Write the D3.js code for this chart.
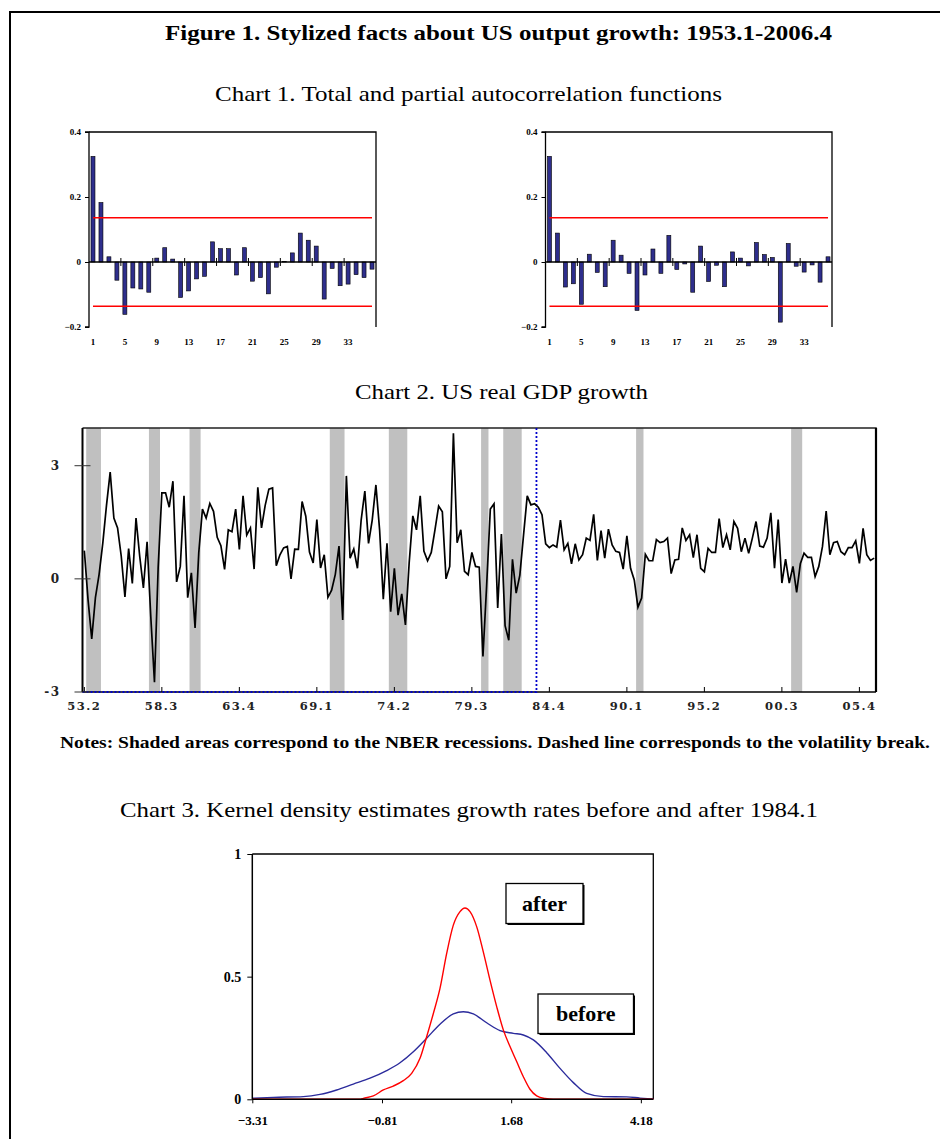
<!DOCTYPE html>
<html>
<head>
<meta charset="utf-8">
<script src="https://cdn.jsdelivr.net/npm/d3@7"></script>
<style>
  html, body { margin: 0; padding: 0; background: #fff; }
  svg { display: block; }
</style>
</head>
<body>
<svg id="fig" width="940" height="1139"></svg>
<script>
// ---------- Chart 1: autocorrelation functions (lags 1..36) ----------
const acfLags = d3.range(1, 37);
const acfTotal = [0.325, 0.183, 0.016, -0.056, -0.161, -0.080, -0.083, -0.093, 0.012, 0.044,
  0.009, -0.109, -0.089, -0.052, -0.044, 0.062, 0.041, 0.041, -0.040, 0.044,
  -0.059, -0.048, -0.098, -0.016, 0.002, 0.028, 0.089, 0.067, 0.049, -0.114,
  -0.020, -0.073, -0.068, -0.039, -0.048, -0.022];
const acfPartial = [0.325, 0.089, -0.077, -0.067, -0.130, 0.024, -0.032, -0.076, 0.067, 0.021,
  -0.035, -0.149, -0.040, 0.040, -0.035, 0.082, -0.023, -0.006, -0.093, 0.049,
  -0.060, -0.010, -0.076, 0.031, 0.012, -0.012, 0.060, 0.023, 0.014, -0.185,
  0.057, -0.013, -0.031, -0.009, -0.062, 0.016];
const acfBand = 0.136;
const acfYTicks = [0.4, 0.2, 0, -0.2];
const acfXTickLabels = [1, 5, 9, 13, 17, 21, 25, 29, 33];

// ---------- Chart 2: US real GDP growth, 1953.2 - 2006.4 ----------
const gdpStart = { year: 1953, q: 2 };
const gdpGrowth = [0.75, -0.55, -1.59, -0.50, 0.12, 0.95, 1.95, 2.83, 1.61, 1.35,
  0.60, -0.48, 0.80, -0.12, 1.61, 0.60, -0.24, 0.98, -1.00, -2.74,
  0.30, 2.28, 2.28, 1.90, 2.59, -0.08, 0.33, 2.20, -0.50, 0.16,
  -1.30, 0.69, 1.85, 1.61, 2.00, 1.79, 1.10, 0.88, 0.25, 1.30,
  1.25, 1.85, 0.78, 2.20, 1.16, 1.35, 0.26, 2.43, 1.35, 1.95,
  2.38, 2.41, 0.35, 0.64, 0.82, 0.86, 0.00, 0.79, 0.78, 2.05,
  1.66, 0.71, 0.42, 1.57, 0.29, 0.64, -0.49, -0.30, 0.12, 0.87,
  -1.09, 2.73, 0.55, 0.79, 0.28, 1.56, 2.33, 0.94, 1.56, 2.49,
  1.30, -0.54, 0.94, -0.87, 0.28, -0.96, -0.40, -1.22, 0.41, 1.67,
  1.30, 2.20, 0.74, 0.48, 0.70, 1.30, 1.93, 1.78, 0.00, 0.33,
  3.86, 0.96, 1.30, 0.20, 0.11, 0.70, 0.33, 0.31, -2.06, -0.18,
  1.85, 1.99, -0.77, 1.19, -1.24, -1.63, 0.52, -0.38, 0.10, 1.16,
  2.20, 1.96, 1.99, 1.90, 1.70, 0.93, 0.83, 0.90, 0.84, 1.56,
  0.77, 0.94, 0.40, 0.93, 0.50, 0.64, 1.08, 1.02, 1.71, 0.49,
  1.28, 0.55, 1.32, 0.90, 0.73, 0.70, 0.26, 1.14, 0.28, -0.03,
  -0.75, -0.51, 0.65, 0.48, 0.48, 1.04, 0.96, 0.99, 1.08, 0.14,
  0.50, 0.52, 1.35, 1.02, 1.17, 0.56, 1.17, 0.28, 0.19, 0.81,
  0.70, 0.70, 1.60, 0.83, 1.17, 0.77, 1.52, 1.34, 0.72, 1.08,
  0.68, 1.08, 1.52, 0.87, 0.84, 1.08, 1.75, 0.28, 1.57, -0.11,
  0.52, -0.11, 0.33, -0.36, 0.40, 0.68, 0.57, 0.57, 0.06, 0.33,
  0.86, 1.80, 0.64, 0.96, 0.99, 0.72, 0.64, 0.83, 0.83, 1.01,
  0.41, 1.34, 0.64, 0.49, 0.55];
// NBER recessions: first and last quarter shaded
const recessionFrom = ["53.3", "57.4", "60.3", "70.1", "74.1", "80.2", "81.4", "90.4", "01.2"];
const recessionTo   = ["54.2", "58.2", "61.1", "70.4", "75.1", "80.3", "82.4", "91.1", "01.4"];
const volatilityBreak = "84.1";
const gdpXTickLabels = ["53.2", "58.3", "63.4", "69.1", "74.2", "79.3", "84.4", "90.1", "95.2", "00.3", "05.4"];
const gdpYTicks = [3, 0, -3];

// ---------- Chart 3: kernel density estimates ----------
const densityAfterX = [-3.31, -1.234, -1.17, -0.977, -0.784, -0.592, -0.399, -0.238, -0.077, 0.051,
  0.18, 0.308, 0.437, 0.565, 0.694, 0.79, 0.887, 1.015, 1.144, 1.272,
  1.401, 1.529, 1.658, 1.786, 1.915, 2.043, 2.172, 2.333, 2.493, 4.42];
const densityAfterY = [0, 0, 0.004, 0.014, 0.038, 0.054, 0.076, 0.106, 0.167, 0.255,
  0.35, 0.452, 0.595, 0.71, 0.765, 0.78, 0.765, 0.704, 0.60, 0.486,
  0.378, 0.283, 0.215, 0.154, 0.092, 0.041, 0.014, 0.003, 0, 0];
const densityBeforeX = [-3.31, -2.905, -2.327, -2.005, -1.684, -1.363, -1.041, -0.72, -0.463, -0.206,
  0.051, 0.308, 0.565, 0.758, 0.951, 1.208, 1.465, 1.722, 1.915, 2.108,
  2.365, 2.622, 2.879, 3.136, 3.457, 3.907, 4.164, 4.42];
const densityBeforeY = [0.004, 0.008, 0.011, 0.02, 0.038, 0.062, 0.086, 0.117, 0.149, 0.194,
  0.249, 0.306, 0.348, 0.357, 0.348, 0.312, 0.28, 0.269, 0.262, 0.242,
  0.19, 0.126, 0.068, 0.024, 0.011, 0.01, 0.005, 0.001];
const densityXTicks = [-3.31, -0.81, 1.68, 4.18];
const densityYTicks = [0, 0.5, 1];

// ---------------------------------------------------------------
const svg = d3.select("#fig");
const SERIF = '"Liberation Serif", "Times New Roman", serif';

// outer frame (top and left edges)
svg.append("path")
  .attr("d", "M10,1139 L10,12 L940,12")
  .attr("fill", "none").attr("stroke", "#000").attr("stroke-width", 2);

// centred heading stretched to a given width
function heading(text, cx, y, size, bold, width) {
  svg.append("text").attr("x", cx - width / 2).attr("y", y)
    .attr("font-family", SERIF).attr("font-size", size)
    .attr("font-weight", bold ? "bold" : "normal")
    .attr("textLength", width).attr("lengthAdjust", "spacingAndGlyphs")
    .text(text);
}
heading("Figure 1. Stylized facts about US output growth: 1953.1-2006.4", 498.5, 40, 22, true, 667);
heading("Chart 1. Total and partial autocorrelation functions", 468.5, 101, 22, false, 507);
heading("Chart 2. US real GDP growth", 501.5, 399, 22, false, 293);
heading("Chart 3. Kernel density estimates growth rates before and after 1984.1", 469, 817, 22, false, 698);
heading("Notes: Shaded areas correspond to the NBER recessions. Dashed line corresponds to the volatility break.", 495, 748, 17, true, 870);

// ---------- correlogram ----------
function correlogram(values, left, right) {
  const top = 132, bottom = 327;
  const g = svg.append("g");
  const x = d3.scaleBand().domain(acfLags).range([left, right]);
  const y = d3.scaleLinear().domain([-0.2, 0.4]).range([bottom, top]);

  // plot frame: top and right
  g.append("path")
    .attr("d", `M${left},${top} L${right},${top} L${right},${bottom}`)
    .attr("fill", "none").attr("stroke", "#000").attr("stroke-width", 1.3);

  // bars
  g.selectAll("rect.bar").data(values).join("rect")
    .attr("class", "bar")
    .attr("x", (d, i) => x(acfLags[i]) + x.bandwidth() * 0.25)
    .attr("width", x.bandwidth() * 0.5)
    .attr("y", d => y(Math.max(0, d)))
    .attr("height", d => Math.abs(y(d) - y(0)))
    .attr("fill", "#2e2e8c").attr("stroke", "#000").attr("stroke-width", 0.6);

  // confidence bands
  const band = d3.line().x(d => x(d) + x.bandwidth() / 2);
  [acfBand, -acfBand].forEach(b => {
    g.append("path")
      .attr("d", band.y(() => y(b))(acfLags))
      .attr("fill", "none").attr("stroke", "#ff0000").attr("stroke-width", 1.6);
  });

  // horizontal zero axis with crossing tick marks every 4 lags
  g.append("line").attr("x1", left).attr("x2", right)
    .attr("y1", y(0)).attr("y2", y(0)).attr("stroke", "#000").attr("stroke-width", 1.3);
  acfXTickLabels.forEach(l => {
    const bx = x(l);
    if (l > 1) {
      g.append("line").attr("x1", bx).attr("x2", bx)
        .attr("y1", y(0) - 4).attr("y2", y(0) + 4)
        .attr("stroke", "#000").attr("stroke-width", 1);
    }
    g.append("text").attr("x", bx + x.bandwidth() / 2).attr("y", bottom + 18)
      .attr("text-anchor", "middle")
      .attr("font-family", SERIF).attr("font-size", 9).attr("font-weight", "bold")
      .text(l);
  });

  // vertical axis
  const yAxis = d3.axisLeft(y).tickValues(acfYTicks).tickSize(4).tickPadding(4)
    .tickFormat(d => d === 0 ? "0" : d3.format(".1f")(d));
  const ya = g.append("g").attr("transform", `translate(${left},0)`).call(yAxis);
  ya.select(".domain").attr("stroke-width", 1.3).attr("d", `M-4,${top}H0V${bottom}H-4`);
  ya.selectAll("text").attr("font-family", SERIF).attr("font-size", 9).attr("font-weight", "bold").attr("fill", "#000");
  ya.selectAll(".tick line").attr("stroke-width", 1);
}
correlogram(acfTotal, 89, 376);
correlogram(acfPartial, 545.5, 832);

// ---------- GDP growth chart ----------
(function () {
  const left = 82.5, right = 876, top = 428, bottom = 692;
  const quarters = gdpGrowth.map((_, i) => {
    const k = (gdpStart.q - 1) + i;
    const yr = gdpStart.year + Math.floor(k / 4);
    return String(yr % 100).padStart(2, "0") + "." + (k % 4 + 1);
  });
  const x = d3.scaleBand().domain(quarters).range([left, right]);
  const xc = q => x(q) + x.bandwidth() / 2;
  const y = d3.scaleLinear().domain([-3, 4]).range([bottom, top]);
  const g = svg.append("g");

  // recession shading
  g.selectAll("rect.rec").data(recessionFrom).join("rect")
    .attr("class", "rec")
    .attr("x", d => x(d))
    .attr("width", (d, i) => x(recessionTo[i]) + x.bandwidth() - x(d))
    .attr("y", top).attr("height", bottom - top)
    .attr("fill", "#c0c0c0");

  // frame: top and right
  g.append("path").attr("d", `M${left},${top} L${right},${top} L${right},${bottom}`)
    .attr("fill", "none").attr("stroke", "#222").attr("stroke-width", 1.5);
  g.append("line").attr("x1", right).attr("x2", right).attr("y1", top).attr("y2", bottom)
    .attr("stroke", "#000").attr("stroke-width", 2.2);

  // bottom axis
  g.append("line").attr("x1", left).attr("x2", right).attr("y1", bottom).attr("y2", bottom)
    .attr("stroke", "#000").attr("stroke-width", 1.5);
  gdpXTickLabels.forEach(l => {
    const px = xc(l);
    g.append("line").attr("x1", px).attr("x2", px).attr("y1", bottom).attr("y2", bottom - 5)
      .attr("stroke", "#000").attr("stroke-width", 1);
    g.append("text").attr("x", px).attr("y", bottom + 18)
      .attr("text-anchor", "middle")
      .attr("font-family", '"DejaVu Serif", serif').attr("font-size", 11.5).attr("font-weight", "bold")
      .attr("letter-spacing", 1.5).attr("fill", "#222")
      .text(l);
  });

  // volatility break marker (dotted)
  const bx = x(volatilityBreak);
  g.append("path").attr("d", `M${left},${bottom} L${bx},${bottom} L${bx},${top}`)
    .attr("fill", "none").attr("stroke", "#0000cc").attr("stroke-width", 1.8)
    .attr("stroke-dasharray", "2,2");

  // growth line
  g.append("path").datum(gdpGrowth)
    .attr("d", d3.line().x((d, i) => xc(quarters[i])).y(d => y(d)))
    .attr("fill", "none").attr("stroke", "#000").attr("stroke-width", 1.7)
    .attr("stroke-linejoin", "miter");

  // left axis
  g.append("line").attr("x1", left).attr("x2", left).attr("y1", top).attr("y2", bottom)
    .attr("stroke", "#000").attr("stroke-width", 2);
  gdpYTicks.forEach(t => {
    g.append("line").attr("x1", left - 8).attr("x2", left + 8).attr("y1", y(t)).attr("y2", y(t))
      .attr("stroke", "#333").attr("stroke-width", 1);
    g.append("text").attr("x", left - 22).attr("y", y(t) + 4)
      .attr("text-anchor", "end")
      .attr("font-family", '"DejaVu Serif", serif').attr("font-size", 12).attr("font-weight", "bold")
      .attr("letter-spacing", 1.5).attr("fill", "#222")
      .text(t < 0 ? "-" + Math.abs(t) : t);
  });
})();

// ---------- kernel density chart ----------
(function () {
  const left = 252.3, right = 653.3, top = 854, bottom = 1099.3;
  const x = d3.scaleLinear().domain([-3.31, 4.42]).range([left, right]);
  const y = d3.scaleLinear().domain([0, 1]).range([bottom, top]);
  const g = svg.append("g");

  g.append("path").attr("d", `M${left},${top} L${right},${top} L${right},${bottom}`)
    .attr("fill", "none").attr("stroke", "#000").attr("stroke-width", 1.3);

  const line = d3.line().curve(d3.curveMonotoneX).x(d => x(d[0])).y(d => y(d[1]));
  g.append("path").datum(d3.zip(densityBeforeX, densityBeforeY))
    .attr("d", line).attr("fill", "none").attr("stroke", "#2b2b9c").attr("stroke-width", 1.4);
  g.append("path").datum(d3.zip(densityAfterX, densityAfterY))
    .attr("d", line).attr("fill", "none").attr("stroke", "#ff0000").attr("stroke-width", 1.4);

  // axes
  const xa = g.append("g").attr("transform", `translate(0,${bottom})`)
    .call(d3.axisBottom(x).tickValues(densityXTicks).tickSize(4).tickPadding(12).tickFormat(d3.format(".2f")));
  xa.select(".domain").attr("d", `M${left},0H${right}`).attr("stroke-width", 1.5);
  xa.selectAll("text").attr("font-family", SERIF).attr("font-size", 13).attr("font-weight", "bold").attr("fill", "#000");

  const ya = g.append("g").attr("transform", `translate(${left},0)`)
    .call(d3.axisLeft(y).tickValues(densityYTicks).tickSize(5).tickPadding(6).tickFormat(d => d === 0.5 ? "0.5" : d));
  ya.select(".domain").attr("d", `M0,${top}V${bottom}`).attr("stroke-width", 1.5);
  ya.selectAll("text").attr("font-family", SERIF).attr("font-size", 14).attr("font-weight", "bold").attr("fill", "#000");

  // labelled boxes
  function tag(text, bx, by, w, h) {
    g.append("rect").attr("x", bx + 1.5).attr("y", by + 1.5).attr("width", w).attr("height", h).attr("fill", "#000");
    g.append("rect").attr("x", bx).attr("y", by).attr("width", w).attr("height", h)
      .attr("fill", "#fff").attr("stroke", "#000").attr("stroke-width", 1.3);
    g.append("text").attr("x", bx + w / 2).attr("y", by + h / 2 + 7)
      .attr("text-anchor", "middle")
      .attr("font-family", SERIF).attr("font-size", 22).attr("font-weight", "bold")
      .text(text);
  }
  tag("after", 506, 883.5, 77, 40);
  tag("before", 538, 994, 95.5, 39.5);
})();
</script>
</body>
</html>
